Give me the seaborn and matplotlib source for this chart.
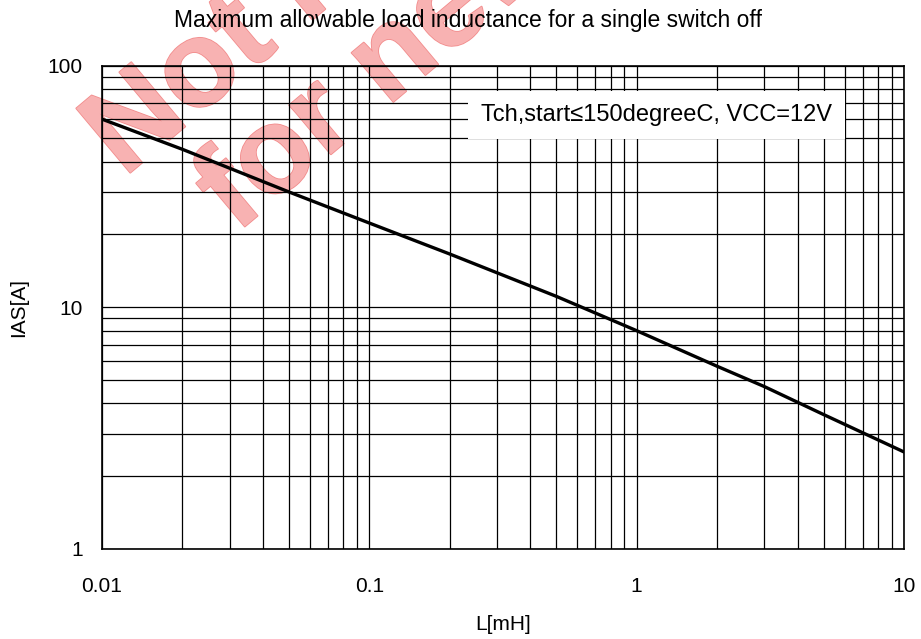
import matplotlib
matplotlib.use("Agg")
import matplotlib.pyplot as plt
import matplotlib.patheffects as pe
from matplotlib.ticker import FixedLocator, FixedFormatter, NullFormatter
import seaborn as sns

# Values (log-log)
inductance_mh = [0.01, 0.02, 0.05, 0.1, 0.2, 0.5, 1, 2, 3, 5, 10]
ias_a = [60, 45, 30, 22.3, 16.6, 11.1, 8.0, 5.7, 4.7, 3.6, 2.52]

x_ticks = [0.01, 0.1, 1, 10]
x_tick_labels = ["0.01", "0.1", "1", "10"]
y_ticks = [1, 10, 100]
y_tick_labels = ["1", "10", "100"]

sns.set_style("white")
plt.rcParams["font.family"] = ["Liberation Sans", "DejaVu Sans"]
plt.rcParams["text.color"] = "black"
plt.rcParams["axes.labelcolor"] = "black"
plt.rcParams["xtick.color"] = "black"
plt.rcParams["ytick.color"] = "black"

fig = plt.figure(figsize=(9.21, 6.39), dpi=100)
ax = fig.add_axes([102 / 921, 1 - 549 / 639, 802 / 921, 483.5 / 639])
ax.patch.set_alpha(0)

# pink watermark behind the axes
wm = dict(fontsize=88, fontweight="bold", color="#f8b2b2", rotation=40,
          rotation_mode="anchor", ha="left", va="baseline", zorder=-5,
          path_effects=[pe.withStroke(linewidth=1.2, foreground="#f28c8c")])
fig.text(124 / 921, 1 - 178 / 639, "Not recommended", **wm)
fig.text(236 / 921, 1 - 234 / 639, "for new designs", **wm)

sns.lineplot(x=inductance_mh, y=ias_a, ax=ax, color="black", linewidth=2.4,
             zorder=5)

ax.set_xscale("log")
ax.set_yscale("log")
ax.set_xlim(0.01, 10)
ax.set_ylim(1, 100)

ax.xaxis.set_major_locator(FixedLocator(x_ticks))
ax.xaxis.set_major_formatter(FixedFormatter(x_tick_labels))
ax.yaxis.set_major_locator(FixedLocator(y_ticks))
ax.yaxis.set_major_formatter(FixedFormatter(y_tick_labels))
ax.xaxis.set_minor_formatter(NullFormatter())
ax.yaxis.set_minor_formatter(NullFormatter())
ax.tick_params(axis="both", which="both", length=0, labelsize=15)
ax.tick_params(axis="x", pad=20)
ax.tick_params(axis="y", pad=14)

ax.grid(True, which="both", color="black", linewidth=0.9)
for s in ax.spines.values():
    s.set_color("black")
    s.set_linewidth(1.2)

ax.set_xlabel("L[mH]", fontsize=15)
ax.set_ylabel("IAS[A]", fontsize=15)
ax.xaxis.set_label_coords(0.5, -0.1365)
ax.yaxis.set_label_coords(-0.092, 0.5)

ax.text(0.691, 0.8976, "Tch,start\u2264150degreeC, VCC=12V", transform=ax.transAxes,
        fontsize=17, ha="center", va="center", zorder=6,
        bbox=dict(boxstyle="square,pad=0.55", facecolor="white", edgecolor="none"))

fig.text(468 / 921, 1 - 21 / 639, "Maximum allowable load inductance for a single switch off",
         ha="center", va="center", fontsize=16.5, zorder=10)

fig.savefig("out.png", dpi=100)
